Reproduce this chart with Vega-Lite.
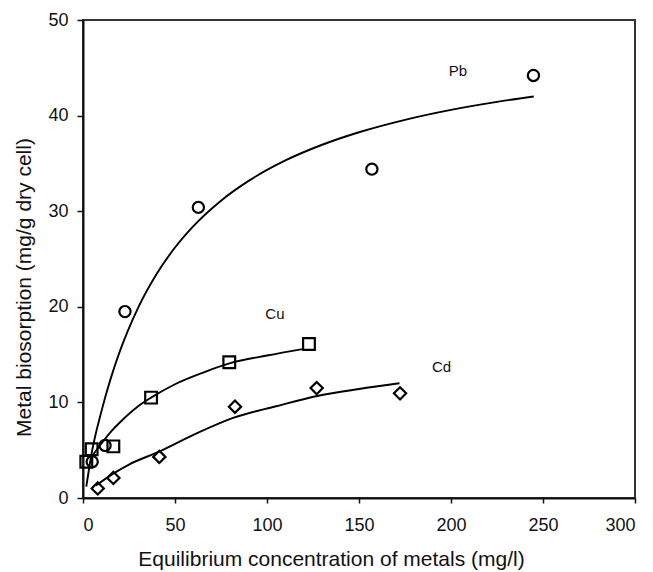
{
  "$schema": "https://vega.github.io/schema/vega-lite/v6.json",
  "width": 552,
  "height": 478,
  "autosize": {"type": "none"},
  "padding": {"left": 83, "top": 20, "right": 18, "bottom": 74},
  "background": "white",
  "config": {
    "view": {"stroke": "#333", "strokeWidth": 2},
    "font": "Liberation Sans",
    "axis": {
      "grid": false,
      "domainColor": "#111",
      "domainWidth": 2,
      "tickColor": "#111",
      "tickWidth": 1.5,
      "labelColor": "#111",
      "titleColor": "#111",
      "labelFont": "Liberation Sans",
      "titleFont": "Liberation Sans",
      "labelFontSize": 18,
      "titleFontSize": 21,
      "titleFontWeight": "normal"
    }
  },
  "datasets": {
    "points": [
      {"metal": "Pb", "C": 5, "q": 3.8},
      {"metal": "Pb", "C": 12, "q": 5.5},
      {"metal": "Pb", "C": 22.8, "q": 19.5},
      {"metal": "Pb", "C": 62.7, "q": 30.4},
      {"metal": "Pb", "C": 157, "q": 34.4},
      {"metal": "Pb", "C": 244.8, "q": 44.2},
      {"metal": "Cu", "C": 1.8, "q": 3.8},
      {"metal": "Cu", "C": 4.7, "q": 5.1},
      {"metal": "Cu", "C": 16.5, "q": 5.4},
      {"metal": "Cu", "C": 37, "q": 10.5},
      {"metal": "Cu", "C": 79.5, "q": 14.2},
      {"metal": "Cu", "C": 122.8, "q": 16.1},
      {"metal": "Cd", "C": 8, "q": 1.0},
      {"metal": "Cd", "C": 16.5, "q": 2.1},
      {"metal": "Cd", "C": 41.5, "q": 4.3},
      {"metal": "Cd", "C": 82.6, "q": 9.55},
      {"metal": "Cd", "C": 127, "q": 11.5},
      {"metal": "Cd", "C": 172.3, "q": 10.95}
    ],
    "curves": [
      {"metal": "Pb", "C": 1.8, "q": 1.2},
      {"metal": "Pb", "C": 5, "q": 4.99},
      {"metal": "Pb", "C": 10, "q": 9.06},
      {"metal": "Pb", "C": 15, "q": 12.46},
      {"metal": "Pb", "C": 20, "q": 15.33},
      {"metal": "Pb", "C": 30, "q": 19.92},
      {"metal": "Pb", "C": 40, "q": 23.43},
      {"metal": "Pb", "C": 50, "q": 26.2},
      {"metal": "Pb", "C": 60, "q": 28.44},
      {"metal": "Pb", "C": 75, "q": 31.1},
      {"metal": "Pb", "C": 90, "q": 33.17},
      {"metal": "Pb", "C": 110, "q": 35.31},
      {"metal": "Pb", "C": 130, "q": 36.95},
      {"metal": "Pb", "C": 150, "q": 38.26},
      {"metal": "Pb", "C": 175, "q": 39.56},
      {"metal": "Pb", "C": 200, "q": 40.6},
      {"metal": "Pb", "C": 225, "q": 41.44},
      {"metal": "Pb", "C": 245, "q": 42.0},
      {"metal": "Cu", "C": 5, "q": 4.4},
      {"metal": "Cu", "C": 10, "q": 5.7},
      {"metal": "Cu", "C": 15, "q": 6.9},
      {"metal": "Cu", "C": 20, "q": 7.9},
      {"metal": "Cu", "C": 30, "q": 9.6},
      {"metal": "Cu", "C": 37, "q": 10.5},
      {"metal": "Cu", "C": 50, "q": 11.9},
      {"metal": "Cu", "C": 65, "q": 13.1},
      {"metal": "Cu", "C": 80, "q": 14.1},
      {"metal": "Cu", "C": 100, "q": 14.9},
      {"metal": "Cu", "C": 120, "q": 15.6},
      {"metal": "Cd", "C": 7, "q": 1.3},
      {"metal": "Cd", "C": 16, "q": 2.5},
      {"metal": "Cd", "C": 25, "q": 3.5},
      {"metal": "Cd", "C": 42, "q": 4.9},
      {"metal": "Cd", "C": 60, "q": 6.6},
      {"metal": "Cd", "C": 82, "q": 8.4},
      {"metal": "Cd", "C": 105, "q": 9.6},
      {"metal": "Cd", "C": 128, "q": 10.7},
      {"metal": "Cd", "C": 150, "q": 11.4},
      {"metal": "Cd", "C": 172, "q": 12.0}
    ],
    "labels": [
      {"metal": "Pb", "C": 203.8, "q": 44.7},
      {"metal": "Cu", "C": 104.3, "q": 19.25},
      {"metal": "Cd", "C": 194.9, "q": 13.7}
    ]
  },
  "layer": [
    {
      "data": {"name": "curves"},
      "mark": {"type": "line", "color": "#000", "strokeWidth": 1.9, "interpolate": "monotone"},
      "encoding": {
        "x": {"field": "C", "type": "quantitative", "scale": {"domain": [0, 300], "nice": false},
          "axis": {"values": [0, 50, 100, 150, 200, 250, 300], "title": "Equilibrium concentration of metals (mg/l)", "tickSize": 5, "labelPadding": 27, "labelBaseline": "alphabetic", "titleX": 248, "titleY": 67, "titleAlign": "center", "titleBaseline": "alphabetic"}},
        "y": {"field": "q", "type": "quantitative", "scale": {"domain": [0, 50], "nice": false},
          "axis": {"values": [0, 10, 20, 30, 40, 50], "title": "Metal biosorption (mg/g dry cell)", "tickSize": 6, "labelPadding": 9, "titleX": -53, "titleY": 267, "titleAngle": -90, "titleAlign": "center", "titleBaseline": "alphabetic"}},
        "detail": {"field": "metal"}
      }
    },
    {
      "data": {"name": "points"},
      "mark": {"type": "point", "filled": false, "stroke": "#000", "strokeWidth": 2.2, "opacity": 1},
      "encoding": {
        "x": {"field": "C", "type": "quantitative"},
        "y": {"field": "q", "type": "quantitative"},
        "shape": {"field": "metal", "type": "nominal", "scale": {"domain": ["Pb", "Cu", "Cd"], "range": ["circle", "square", "diamond"]}, "legend": null},
        "size": {"field": "metal", "type": "nominal", "scale": {"domain": ["Pb", "Cu", "Cd"], "range": [125, 150, 170]}, "legend": null}
      }
    },
    {
      "data": {"name": "labels"},
      "mark": {"type": "text", "fontSize": 15, "font": "Liberation Sans", "color": "#111"},
      "encoding": {
        "x": {"field": "C", "type": "quantitative"},
        "y": {"field": "q", "type": "quantitative"},
        "text": {"field": "metal"}
      }
    }
  ]
}
